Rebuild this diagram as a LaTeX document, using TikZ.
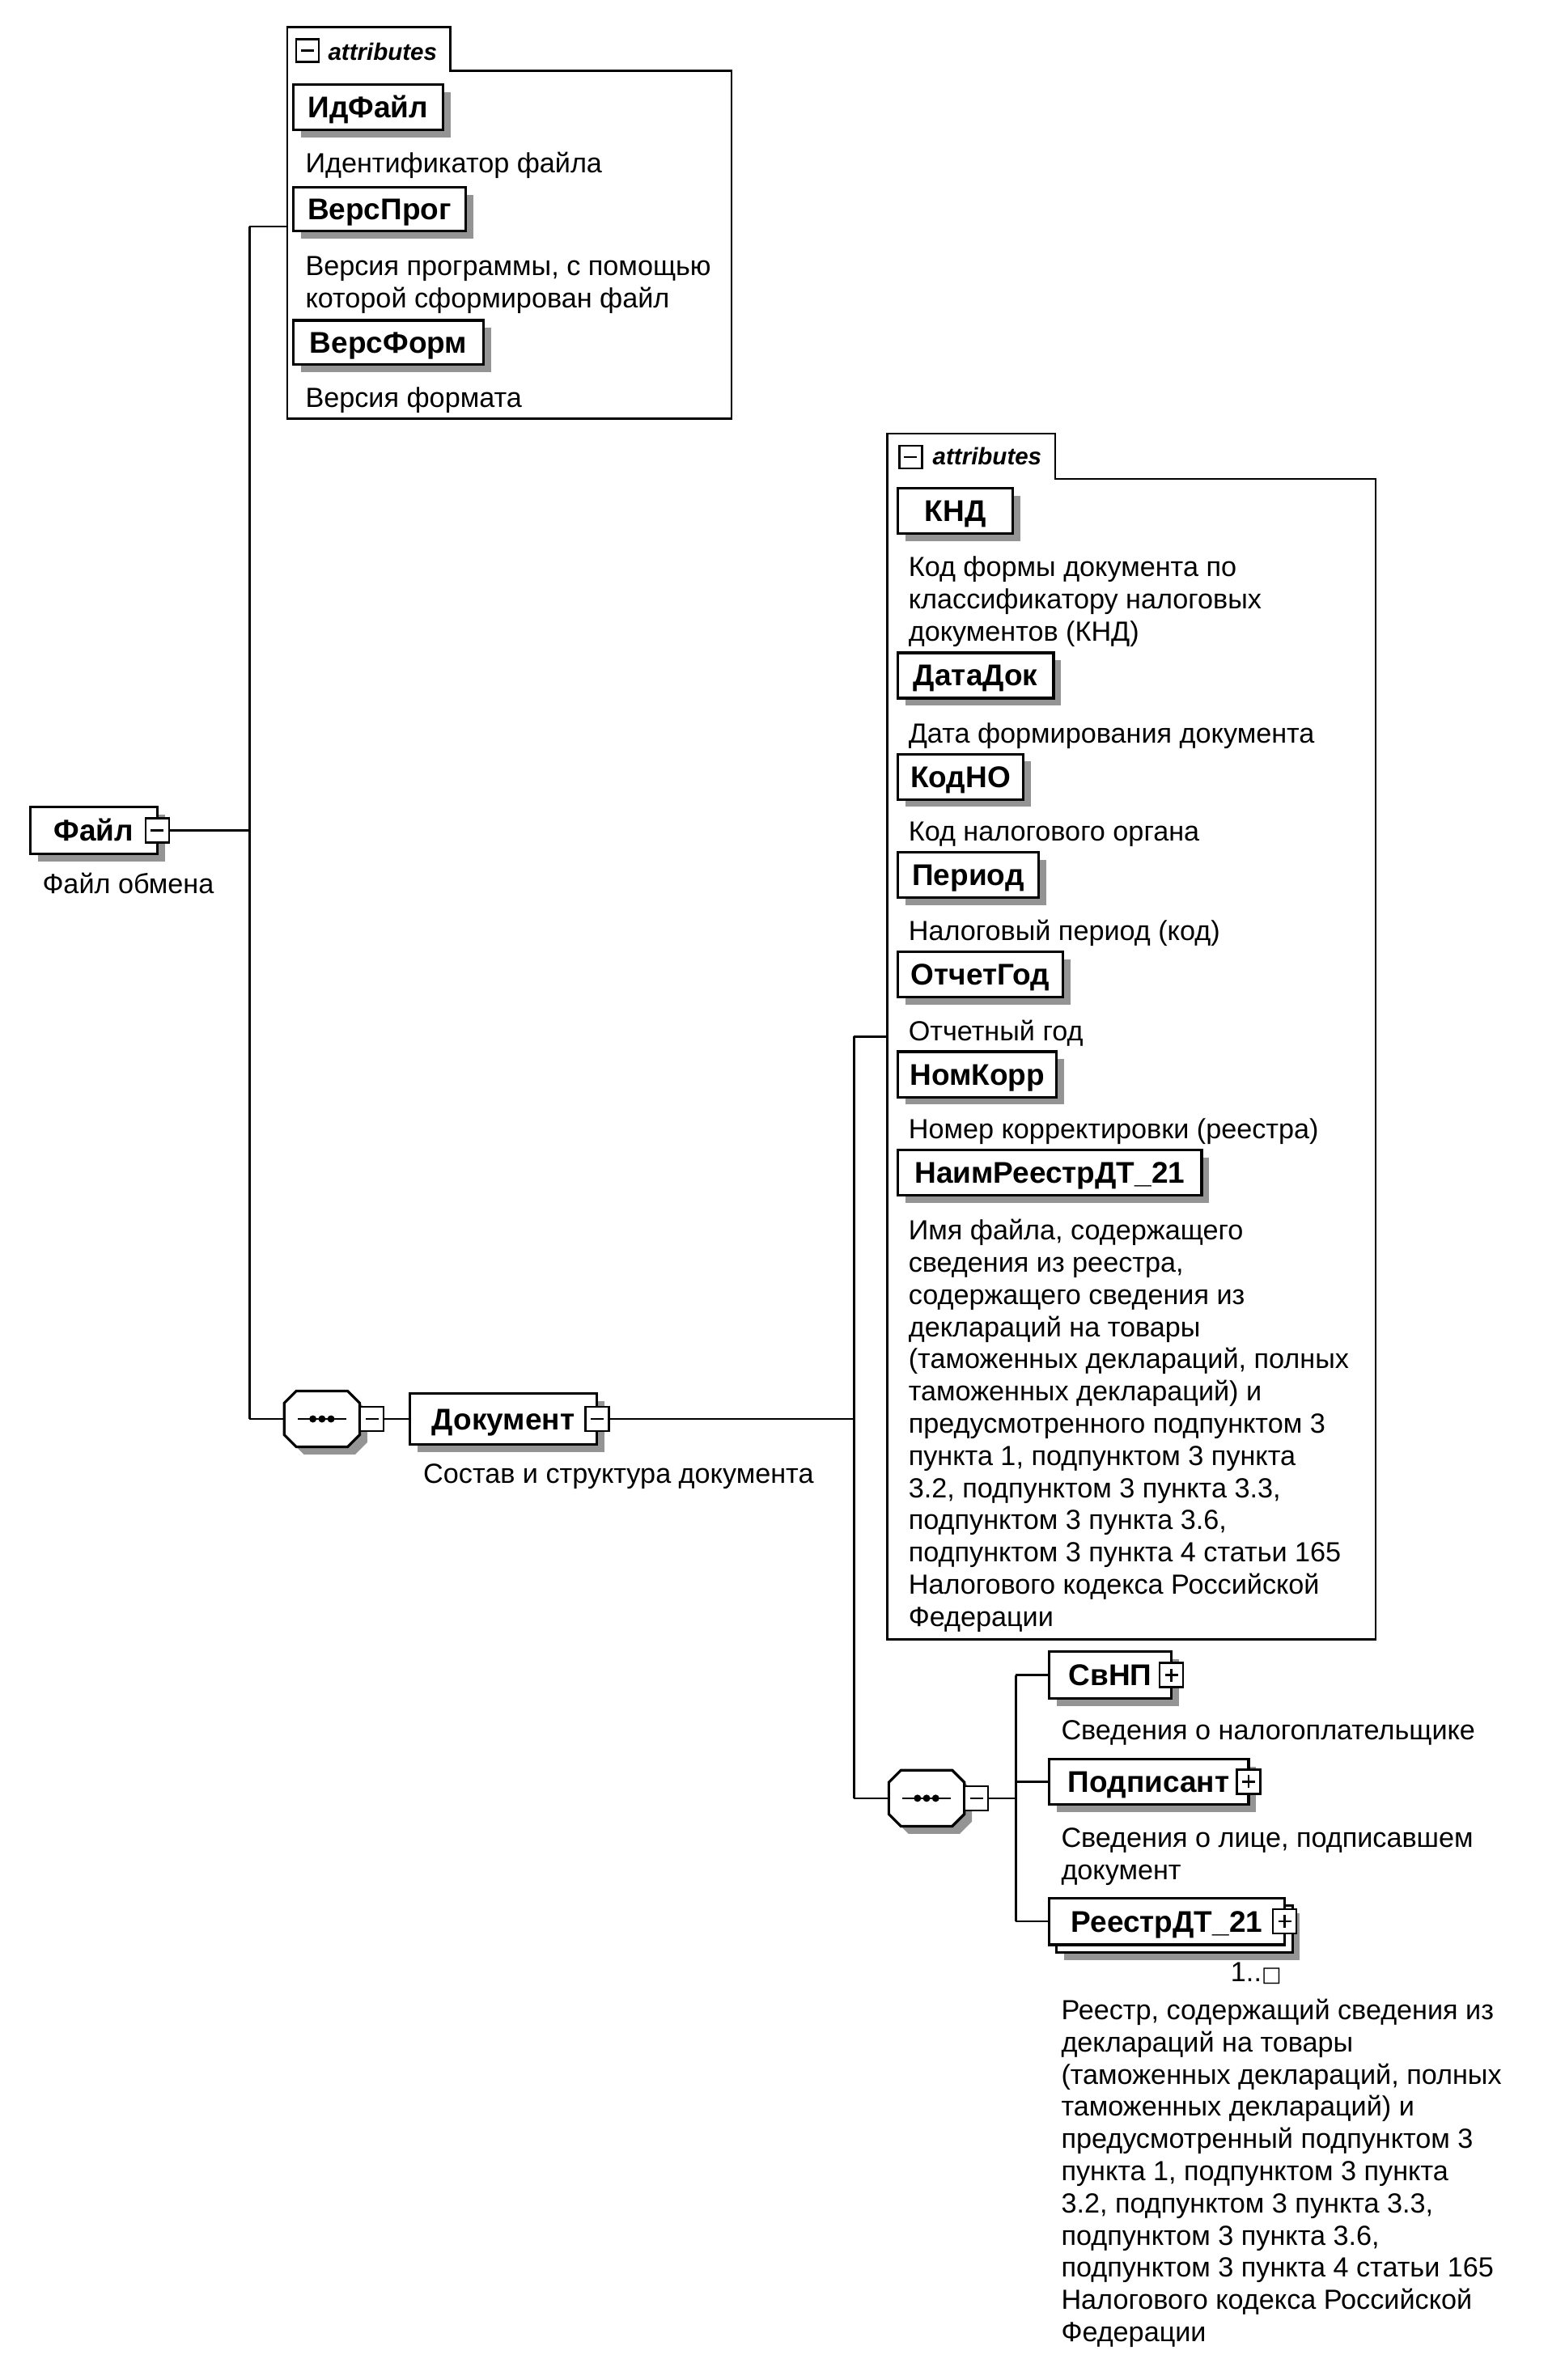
\documentclass[tikz,border=0pt]{standalone}
\usepackage{fontspec}
\setmainfont{Liberation Sans}
\newfontfamily\symfont{DejaVu Sans}
\newcommand\descfont{\fontsize{34.2}{39.8}\selectfont}
\newcommand\namefont{\bfseries\fontsize{37}{40}\selectfont}
\newcommand\attrfont{\bfseries\itshape\fontsize{29.5}{30}\selectfont}
\tikzset{
  conn/.style={line width=2.6pt},
  elem/.style={draw, line width=3.2pt, fill=white, font=\namefont, inner sep=0pt, text height=26pt, text depth=0pt},
  shadowfill/.style={fill=black!42},
  desc/.style={font=\descfont, anchor=north west, inner sep=0pt, align=left},
  btn/.style={draw, line width=2.4pt, fill=white, minimum width=29pt, minimum height=30pt, inner sep=0pt},
  sign/.style={line width=2.6pt},
  container/.style={draw, line width=2.6pt, fill=white},
  attrlab/.style={font=\attrfont, anchor=west, inner sep=0pt},
}
% name, x1, y1, x2, y2, text
\newcommand\xelem[6]{%
  \fill[shadowfill] (#2+5,#3+5) rectangle (#4+5,#5+5);
  \node[elem, minimum width={(#4-#2)*1.868pt}, minimum height={(#5-#3)*1.868pt}] (#1) at ({(#2+#4)/2},{(#3+#5)/2}) {#6};
}
% name, x, ycenter of first line, text
\newcommand\xdesc[4]{\node[desc] (#1) at (#2,#3-8.5) {\strut#4};}
\newcommand\minusbtn[3]{%
  \node[btn] (#1) at (#2,#3) {};
  \draw[sign] ([xshift=-8pt]#1.center) -- ([xshift=8pt]#1.center);
}
\newcommand\plusbtn[3]{%
  \node[btn] (#1) at (#2,#3) {};
  \draw[sign] ([xshift=-8pt]#1.center) -- ([xshift=8pt]#1.center);
  \draw[sign] ([yshift=-8pt]#1.center) -- ([yshift=8pt]#1.center);
}
\newcommand\octpath[2]{(#1-17,#2-18.5) -- ++(34,0) -- ++(8,8) -- ++(0,21) -- ++(-8,8) -- ++(-34,0) -- ++(-8,-8) -- ++(0,-21) -- cycle}
\newcommand\seqnode[3]{%
  \fill[shadowfill] \octpath{#2+5}{#3+5};
  \draw[line width=3.2pt, fill=white] \octpath{#2}{#3};
  \node[minimum width={50*1.868pt}, minimum height={37*1.868pt}, inner sep=0pt] (#1) at (#2,#3) {};
  \draw[conn] ([xshift={-16*1.868pt}]#1.center) -- ([xshift={16*1.868pt}]#1.center);
  \foreach \dx in {-6,0,6} \fill ([xshift={\dx*1.868pt}]#1.center) circle (4.5pt);
}
\begin{document}
\begin{tikzpicture}[x=1.868pt,y=-1.868pt]
\useasboundingbox (0,0) rectangle (1024.1,1575);
\fill[white] (0,0) rectangle (1024.1,1575);

% ---------- Файл
\xelem{file}{20}{534}{104}{565}{Файл}
\minusbtn{fileb}{104}{549.5}
\xdesc{filed}{28}{585}{Файл обмена}

% ---------- attributes of Файл
\draw[container] (190,18) -- (298,18) -- (298,47) -- (484,47) -- (484,277) -- (190,277) -- cycle;
\node[btn, minimum width=28pt, minimum height=28pt] (a1icon) at (203.5,33.5) {};
\draw[sign] ([xshift=-8pt]a1icon.center) -- ([xshift=8pt]a1icon.center);
\node[attrlab] (a1lab) at (217,34) {attributes};
\xelem{idf}{194}{56}{293}{86}{ИдФайл}
\xdesc{idfd}{202}{108}{Идентификатор файла}
\xelem{vprog}{194}{124}{308}{153}{ВерсПрог}
\xdesc{vprogd}{202}{176}{Версия программы, с помощью\\которой сформирован файл}
\xelem{vform}{194}{212}{320}{241}{ВерсФорм}
\xdesc{vformd}{202}{263}{Версия формата}

\coordinate (j1t) at (165,150);
\coordinate (j1b) at (165,939);
\coordinate (a1w) at (190,150);
\draw[conn] (fileb.east) -- (fileb.east -| j1t);
\draw[conn] (j1t) -- (j1b);
\draw[conn] (j1t) -- (a1w);

% ---------- sequence 1 and Документ
\seqnode{seq1}{213}{939}
\minusbtn{seq1b}{246}{939}
\draw[conn] (j1b) -- (seq1.west);
\xelem{doc}{271}{922}{395}{956}{Документ}
\minusbtn{docb}{395}{939}
\draw[conn] (seq1b.east) -- (doc.west);
\xdesc{docd}{280}{975}{Состав и структура документа}

\coordinate (j2t) at (565,686);
\coordinate (j2b) at (565,1190);
\coordinate (a2w) at (587,686);
\draw[conn] (docb.east) -- (docb.east -| j2t);
\draw[conn] (j2t) -- (j2b);
\draw[conn] (j2t) -- (a2w);

% ---------- attributes of Документ
\draw[container] (587,287) -- (698,287) -- (698,317) -- (910,317) -- (910,1085) -- (587,1085) -- cycle;
\node[btn, minimum width=28pt, minimum height=28pt] (a2icon) at (602.5,302.5) {};
\draw[sign] ([xshift=-8pt]a2icon.center) -- ([xshift=8pt]a2icon.center);
\node[attrlab] (a2lab) at (617,302) {attributes};
\xelem{knd}{594}{323}{670}{353}{КНД}
\xdesc{kndd}{601}{375}{Код формы документа по\\классификатору налоговых\\документов (КНД)}
\xelem{datadok}{594}{432}{697}{462}{ДатаДок}
\xdesc{datadokd}{601}{485}{Дата формирования документа}
\xelem{kodno}{594}{499}{677}{529}{КодНО}
\xdesc{kodnod}{601}{550}{Код налогового органа}
\xelem{period}{594}{564}{687}{594}{Период}
\xdesc{periodd}{601}{616}{Налоговый период (код)}
\xelem{otchgod}{594}{630}{703}{660}{ОтчетГод}
\xdesc{otchgodd}{601}{682}{Отчетный год}
\xelem{nomkorr}{594}{696}{699}{726}{НомКорр}
\xdesc{nomkorrd}{601}{747}{Номер корректировки (реестра)}
\xelem{naim}{594}{761}{795}{791}{НаимРеестрДТ\_21}
\xdesc{naimd}{601}{814}{Имя файла, содержащего\\сведения из реестра,\\содержащего сведения из\\деклараций на товары\\(таможенных деклараций, полных\\таможенных деклараций) и\\предусмотренного подпунктом 3\\пункта 1, подпунктом 3 пункта\\3.2, подпунктом 3 пункта 3.3,\\подпунктом 3 пункта 3.6,\\подпунктом 3 пункта 4 статьи 165\\Налогового кодекса Российской\\Федерации}

% ---------- sequence 2 and children
\seqnode{seq2}{613}{1190}
\minusbtn{seq2b}{646}{1190}
\draw[conn] (j2b) -- (seq2.west);
\coordinate (j3t) at (672,1108.5);
\coordinate (j3b) at (672,1271.5);
\draw[conn] (seq2b.east) -- (seq2b.east -| j3t);
\draw[conn] (j3t) -- (j3b);

\xelem{svnp}{694}{1093}{775}{1124}{СвНП}
\plusbtn{svnpb}{775}{1108.5}
\draw[conn] (j3t) -- (svnp.west);
\xdesc{svnpd}{702}{1145}{Сведения о налогоплательщике}

\xelem{podp}{694}{1164}{826}{1194}{Подписант}
\plusbtn{podpb}{826}{1179}
\draw[conn] (podp.west -| j3t) -- (podp.west);
\xdesc{podpd}{702}{1216}{Сведения о лице, подписавшем\\документ}

\fill[shadowfill] (704,1266) rectangle (860,1297);
\draw[line width=3.2pt, fill=white] (699,1261) rectangle (855,1292);
\node[elem, minimum width={156*1.868pt}, minimum height={31*1.868pt}] (reestr) at (772,1271.5) {РеестрДТ\_21};
\plusbtn{reestrb}{850}{1271.5}
\draw[conn] (j3b) -- (reestr.west);
\node[font=\descfont, inner sep=0pt] (mult) at (831,1306) {1..{\symfont\fontsize{26}{30}\selectfont □}};
\xdesc{reestrd}{702}{1330}{Реестр, содержащий сведения из\\деклараций на товары\\(таможенных деклараций, полных\\таможенных деклараций) и\\предусмотренный подпунктом 3\\пункта 1, подпунктом 3 пункта\\3.2, подпунктом 3 пункта 3.3,\\подпунктом 3 пункта 3.6,\\подпунктом 3 пункта 4 статьи 165\\Налогового кодекса Российской\\Федерации}
\end{tikzpicture}
\end{document}
